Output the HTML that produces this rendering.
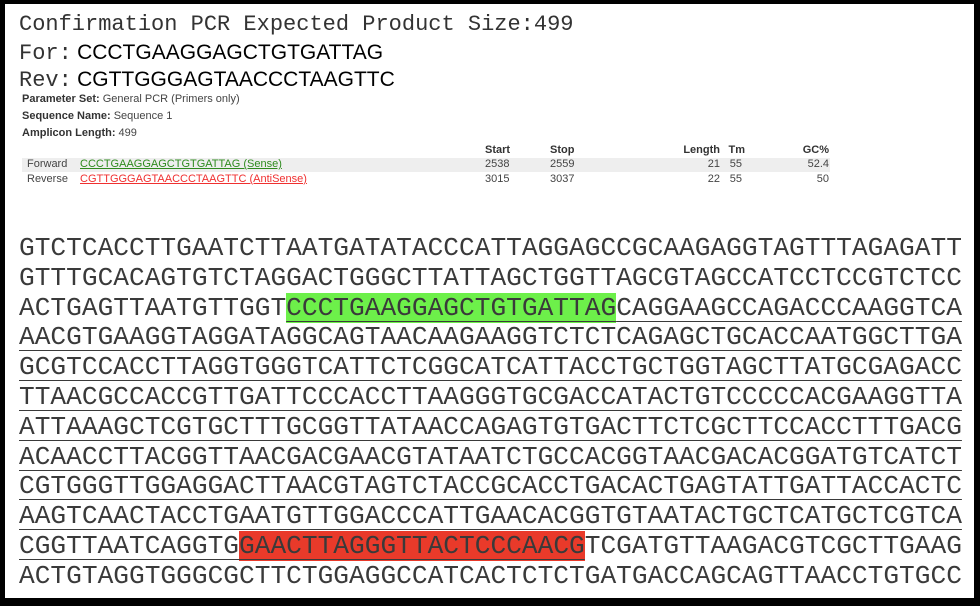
<!DOCTYPE html>
<html><head><meta charset="utf-8">
<style>
*{margin:0;padding:0;box-sizing:border-box}
body{width:980px;height:606px;background:#000;position:relative;overflow:hidden}
#page{position:absolute;left:5px;top:4px;width:969px;height:594px;background:#fff}
.abs{position:absolute;white-space:nowrap}
.mono{font-family:"Liberation Mono",monospace;color:#333}
.sans{font-family:"Liberation Sans",sans-serif}
.small{font-family:"Liberation Sans",sans-serif;font-size:11px;color:#444}
.small b{color:#333}
.seq{position:absolute;left:14px;font-family:"Liberation Mono",monospace;font-size:26.2px;color:#3a3a3a;line-height:30px;white-space:nowrap}
.amp{text-decoration:underline;text-decoration-thickness:1px;text-underline-offset:6px}
.green{background:#6df04a}
.red{background:#e93a2a}
.r{text-align:right}
</style></head><body>
<div id="page">
<div class="abs mono" style="left:14px;top:8px;font-size:22px">Confirmation PCR Expected Product Size:499</div>
<div class="abs" style="left:14px;top:36px;font-size:21px;color:#222"><span class="mono" style="font-size:22px">For:</span> <span class="sans" style="color:#000">CCCTGAAGGAGCTGTGATTAG</span></div>
<div class="abs" style="left:14px;top:63px;font-size:21px;color:#222"><span class="mono" style="font-size:22px">Rev:</span> <span class="sans" style="color:#000">CGTTGGGAGTAACCCTAAGTTC</span></div>
<div class="abs small" style="left:17px;top:89px"><b>Parameter Set:</b> General PCR (Primers only)</div>
<div class="abs small" style="left:17px;top:106px"><b>Sequence Name:</b> Sequence 1</div>
<div class="abs small" style="left:17px;top:123px"><b>Amplicon Length:</b> 499</div>

<div class="abs small" style="left:480px;top:140px;font-weight:bold;color:#333">Start</div>
<div class="abs small" style="left:545px;top:140px;font-weight:bold;color:#333">Stop</div>
<div class="abs small r" style="left:655px;width:60px;top:140px;font-weight:bold;color:#333">Length</div>
<div class="abs small r" style="left:700px;width:40px;top:140px;font-weight:bold;color:#333">Tm</div>
<div class="abs small r" style="left:764px;width:60px;top:140px;font-weight:bold;color:#333">GC%</div>

<div class="abs" style="left:17px;top:154px;width:808px;height:14px;background:#eee"></div>
<div class="abs small" style="left:22px;top:154px">Forward</div>
<div class="abs small" style="left:75px;top:154px;color:#2e8b1e;text-decoration:underline">CCCTGAAGGAGCTGTGATTAG (Sense)</div>
<div class="abs small" style="left:480px;top:154px">2538</div>
<div class="abs small" style="left:545px;top:154px">2559</div>
<div class="abs small r" style="left:655px;width:60px;top:154px">21</div>
<div class="abs small r" style="left:697px;width:40px;top:154px">55</div>
<div class="abs small r" style="left:764px;width:60px;top:154px">52.4</div>

<div class="abs small" style="left:22px;top:169px">Reverse</div>
<div class="abs small" style="left:75px;top:169px;color:#f03030;text-decoration:underline">CGTTGGGAGTAACCCTAAGTTC (AntiSense)</div>
<div class="abs small" style="left:480px;top:169px">3015</div>
<div class="abs small" style="left:545px;top:169px">3037</div>
<div class="abs small r" style="left:655px;width:60px;top:169px">22</div>
<div class="abs small r" style="left:697px;width:40px;top:169px">55</div>
<div class="abs small r" style="left:764px;width:60px;top:169px">50</div>

<div class="seq" style="top:230px;line-height:29.8px">
GTCTCACCTTGAATCTTAATGATATACCCATTAGGAGCCGCAAGAGGTAGTTTAGAGATT<br>
GTTTGCACAGTGTCTAGGACTGGGCTTATTAGCTGGTTAGCGTAGCCATCCTCCGTCTCC<br>
ACTGAGTTAATGTTGGT<span class="amp"><span class="green">CCCTGAAGGAGCTGTGATTAG</span>CAGGAAGCCAGACCCAAGGTCA<br>
AACGTGAAGGTAGGATAGGCAGTAACAAGAAGGTCTCTCAGAGCTGCACCAATGGCTTGA<br>
GCGTCCACCTTAGGTGGGTCATTCTCGGCATCATTACCTGCTGGTAGCTTATGCGAGACC<br>
TTAACGCCACCGTTGATTCCCACCTTAAGGGTGCGACCATACTGTCCCCCACGAAGGTTA<br>
ATTAAAGCTCGTGCTTTGCGGTTATAACCAGAGTGTGACTTCTCGCTTCCACCTTTGACG<br>
ACAACCTTACGGTTAACGACGAACGTATAATCTGCCACGGTAACGACACGGATGTCATCT<br>
CGTGGGTTGGAGGACTTAACGTAGTCTACCGCACCTGACACTGAGTATTGATTACCACTC<br>
AAGTCAACTACCTGAATGTTGGACCCATTGAACACGGTGTAATACTGCTCATGCTCGTCA<br>
CGGTTAATCAGGTG<span class="red">GAACTTAGGGTTACTCCCAACG</span></span>TCGATGTTAAGACGTCGCTTGAAG<br>
ACTGTAGGTGGGCGCTTCTGGAGGCCATCACTCTCTGATGACCAGCAGTTAACCTGTGCC
</div>
</div>
</body></html>
